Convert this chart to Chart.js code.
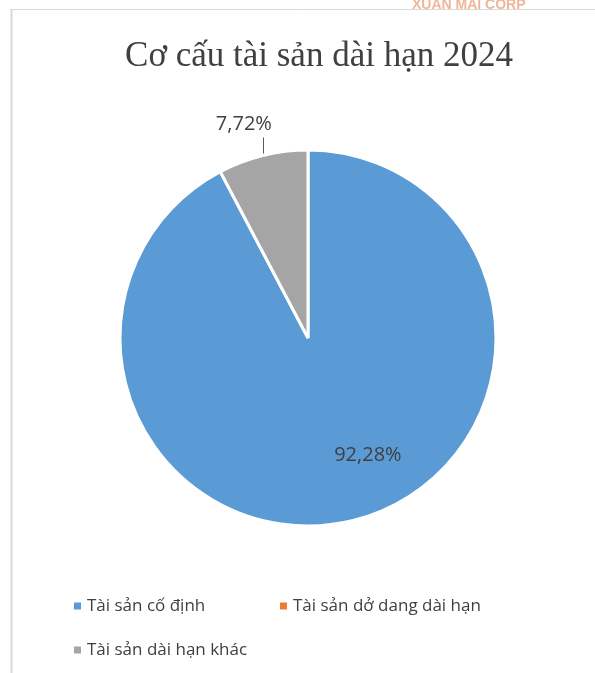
<!DOCTYPE html>
<html>
<head>
<meta charset="utf-8">
<script src="https://cdn.jsdelivr.net/npm/chart.js@4.4.1/dist/chart.umd.min.js"></script>
<style>
  html, body { margin: 0; padding: 0; background: #fff; }
  canvas { display: block; }
</style>
</head>
<body>
<canvas id="myChart" width="595" height="673"></canvas>
<script>
// data
var labels = ['Tài sản cố định', 'Tài sản dở dang dài hạn', 'Tài sản dài hạn khác'];
var values = [92.28, 0, 7.72];
var colors = ['#5B9BD5', '#ED7D31', '#A5A5A5'];
var titleText = 'Cơ cấu tài sản dài hạn 2024';
var watermark = 'XUAN MAI CORP';

function fmtPct(v) {
  return v.toFixed(2).replace('.', ',') + '%';
}

// frame, watermark and title
var backdrop = {
  id: 'backdrop',
  beforeDraw: function (chart) {
    var ctx = chart.ctx;
    ctx.save();
    ctx.fillStyle = '#ffffff';
    ctx.fillRect(0, 0, chart.width, chart.height);
    ctx.strokeStyle = '#d9d9d9';
    ctx.lineWidth = 1;
    ctx.beginPath();
    ctx.moveTo(10, 9.5); ctx.lineTo(chart.width, 9.5);
    ctx.stroke();
    ctx.lineWidth = 2;
    ctx.beginPath();
    ctx.moveTo(11.5, 9); ctx.lineTo(11.5, chart.height);
    ctx.stroke();

    ctx.font = 'bold 14px "Liberation Sans", Arial';
    ctx.fillStyle = 'rgba(232, 120, 70, 0.55)';
    ctx.textAlign = 'left';
    ctx.textBaseline = 'alphabetic';
    ctx.fillText(watermark, 412, 8.5);

    ctx.font = '35px "Liberation Serif", "Times New Roman", serif';
    ctx.fillStyle = '#404040';
    ctx.textAlign = 'center';
    ctx.textBaseline = 'middle';
    ctx.fillText(titleText, 319, 57);
    ctx.restore();
  }
};

// percentage labels
var sliceLabels = {
  id: 'sliceLabels',
  afterDatasetsDraw: function (chart) {
    var ctx = chart.ctx;
    var meta = chart.getDatasetMeta(0);
    ctx.save();
    ctx.font = '20px "Open Sans", "Noto Sans", sans-serif';
    ctx.fillStyle = '#404040';
    ctx.strokeStyle = '#595959';
    ctx.lineWidth = 1;
    ctx.textAlign = 'center';
    ctx.textBaseline = 'middle';
    meta.data.forEach(function (arc, i) {
      var v = values[i];
      if (!v) return;
      var p = arc.getProps(['x', 'y', 'startAngle', 'endAngle', 'outerRadius'], true);
      var mid = (p.startAngle + p.endAngle) / 2;
      if (v > 50) {
        var a = mid - 0.23;
        var r = p.outerRadius * 0.7;
        ctx.fillText(fmtPct(v), p.x + r * Math.cos(a), p.y + r * Math.sin(a));
      } else {
        var ex = p.x + p.outerRadius * Math.cos(mid);
        var ey = p.y + p.outerRadius * Math.sin(mid);
        ctx.beginPath();
        ctx.moveTo(Math.round(ex) + 0.5, ey - 2);
        ctx.lineTo(Math.round(ex) + 0.5, ey - 18);
        ctx.stroke();
        ctx.fillText(fmtPct(v), ex - 19, ey - 31);
      }
    });
    ctx.restore();
  }
};

// legend in two columns
var legendGrid = {
  id: 'legendGrid',
  afterDraw: function (chart) {
    var ctx = chart.ctx;
    ctx.save();
    ctx.font = '17px "Open Sans", "Noto Sans", sans-serif';
    ctx.textAlign = 'left';
    ctx.textBaseline = 'middle';
    labels.forEach(function (lab, i) {
      var col = i % 2, row = Math.floor(i / 2);
      var x = 74 + col * 206;
      var y = 606 + row * 44;
      ctx.fillStyle = colors[i];
      ctx.fillRect(x, y - 3.5, 7, 7);
      ctx.fillStyle = '#404040';
      ctx.fillText(lab, x + 13, y);
    });
    ctx.restore();
  }
};

var ctx = document.getElementById('myChart').getContext('2d');
var chart = new Chart(ctx, {
  type: 'pie',
  data: {
    labels: labels,
    datasets: [{
      data: values,
      backgroundColor: colors,
      borderColor: '#ffffff',
      borderWidth: 3
    }]
  },
  options: {
    responsive: false,
    animation: false,
    devicePixelRatio: 1,
    radius: 188,
    layout: { padding: { left: 21, right: 0, top: 103, bottom: 100 } },
    plugins: {
      legend: { display: false },
      title: { display: false },
      tooltip: { enabled: false }
    }
  },
  plugins: [backdrop, sliceLabels, legendGrid]
});
</script>
</body>
</html>
